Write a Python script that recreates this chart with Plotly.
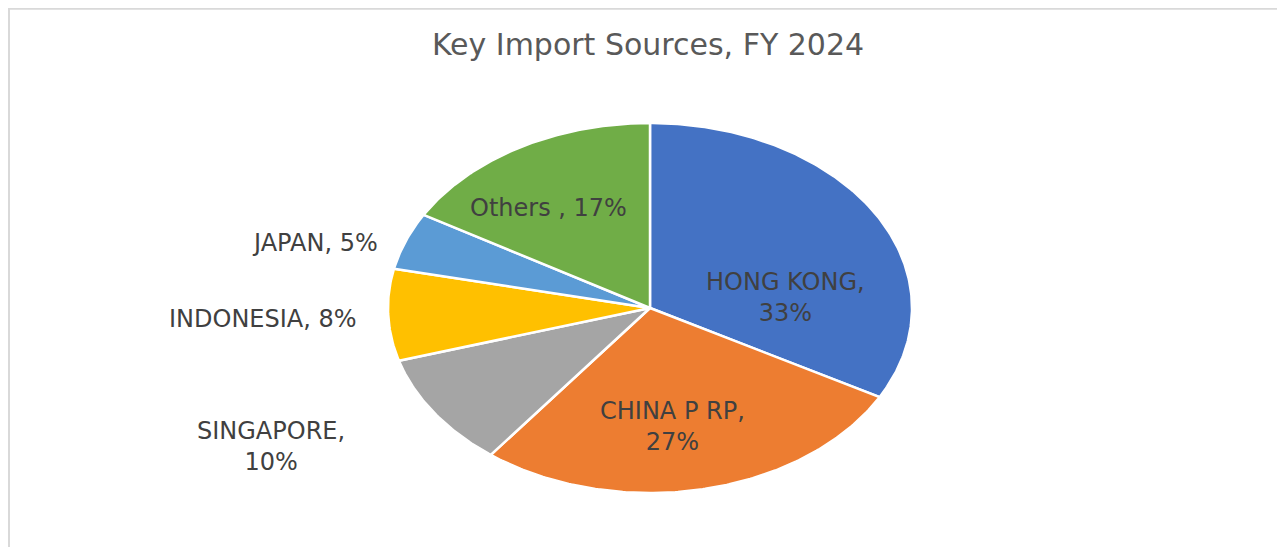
import numpy as np
import plotly.graph_objects as go

# ---- data ----
countries = ["HONG KONG", "CHINA P RP", "SINGAPORE", "INDONESIA", "JAPAN", "Others "]
shares = [33.0, 27.4, 10.0, 8.0, 5.0, 16.6]
colors = ["#4472C4", "#ED7D31", "#A5A5A5", "#FFC000", "#5B9BD5", "#70AD47"]
title_text = "Key Import Sources, FY 2024"

# ---- layout constants (pixel-like axes; page body has an 8px offset) ----
W, H = 1285, 547
OFF = 8
cx, cy, rx, ry = 650, 308, 262, 185

# label placement: (x, y, two-line?)
label_pos = {
    "HONG KONG": (785, 297, True),
    "CHINA P RP": (672, 426, True),
    "SINGAPORE": (271, 446, True),
    "INDONESIA": (263, 319, False),
    "JAPAN": (315, 243, False),
    "Others ": (548, 208, False),
}

fig = go.Figure()
total = sum(shares)
start = 0.0
for name, val, col in zip(countries, shares, colors):
    a0 = start / total * 2 * np.pi
    a1 = (start + val) / total * 2 * np.pi
    t = np.linspace(a0, a1, max(int(val * 6), 20))
    xs = np.concatenate([[cx], cx + rx * np.sin(t), [cx]])
    ys = np.concatenate([[cy], cy - ry * np.cos(t), [cy]])
    fig.add_trace(go.Scatter(
        x=xs, y=ys, mode="lines", fill="toself", fillcolor=col,
        line=dict(color="white", width=2.5), name=name.strip(),
        hoverinfo="name", showlegend=False,
    ))
    start += val

for name, val in zip(countries, shares):
    x, y, two = label_pos[name]
    pct = f"{round(val):d}%"
    txt = f"{name},<br>{pct}" if two else f"{name}, {pct}"
    fig.add_annotation(x=x, y=y, text=txt, showarrow=False,
                       font=dict(family="DejaVu Sans", size=24, color="#404040"),
                       xanchor="center", yanchor="middle", align="center")

# outer light border (paper coords so it is not clipped)
fig.add_shape(type="rect", xref="paper", yref="paper",
              x0=1.0 / W, y0=-0.05, x1=1.05, y1=1 - 0.8 / H,
              line=dict(color="#D9D9D9", width=2), fillcolor="rgba(0,0,0,0)", layer="below")

fig.update_layout(
    width=W, height=H,
    margin=dict(l=0, r=0, t=0, b=0),
    paper_bgcolor="white", plot_bgcolor="white",
    title=dict(text=title_text, x=(648 - OFF) / W, y=1 - (44 - OFF) / H,
               xanchor="center", yanchor="middle",
               font=dict(family="DejaVu Sans", size=30, color="#595959")),
    xaxis=dict(range=[OFF, W + OFF], visible=False, fixedrange=True),
    yaxis=dict(range=[H + OFF, OFF], visible=False, fixedrange=True),
)

fig.write_html("out.html")
